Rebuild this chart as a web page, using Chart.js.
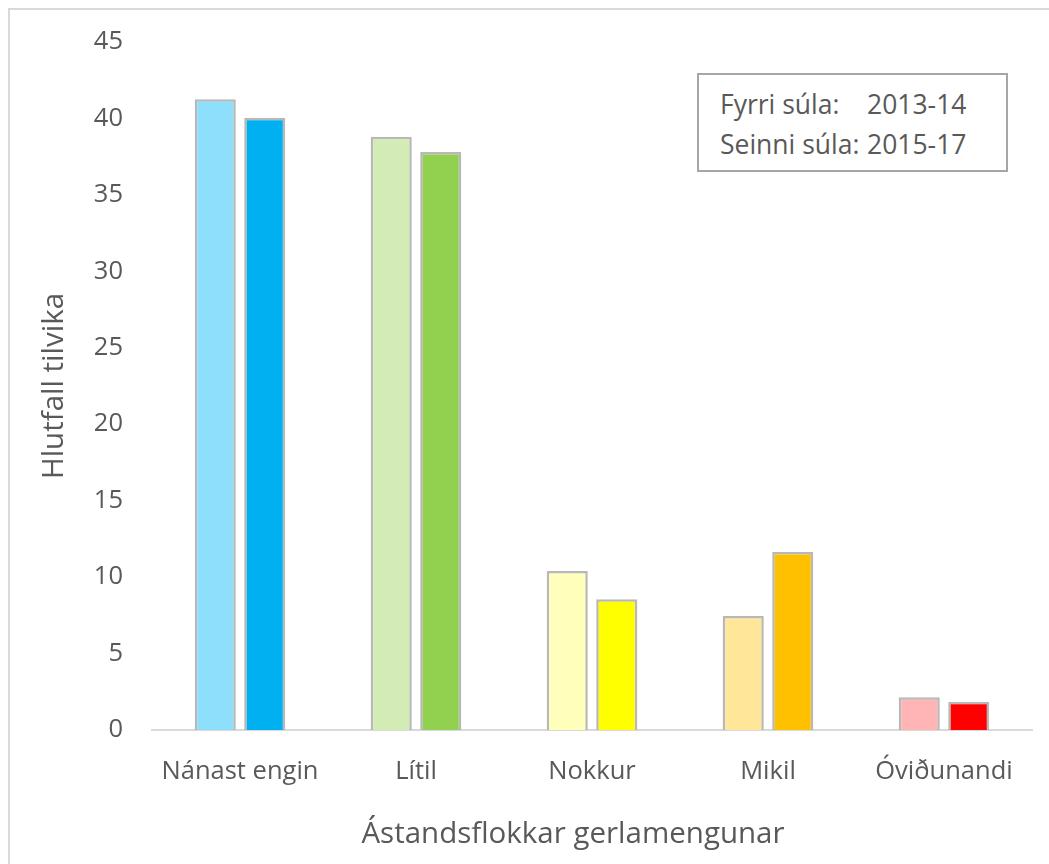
<!DOCTYPE html>
<html>
<head>
<meta charset="utf-8">
<script src="https://cdn.jsdelivr.net/npm/chart.js@4/dist/chart.umd.min.js"></script>
<style>
  html, body { margin: 0; padding: 0; background: #fff; overflow: hidden; }
  #wrap { position: relative; width: 1049px; height: 864px; }
  #frame { position: absolute; left: 8px; top: 8px; width: 1100px; height: 900px; border: 2px solid #d9d9d9; box-sizing: border-box; }
  canvas { position: absolute; left: 0; top: 0; }
  #legend { position: absolute; left: 697px; top: 73px; width: 311px; height: 99px; border: 2px solid #a6a6a6; box-sizing: border-box; background: #fff;
            font-family: "Open Sans", sans-serif; font-size: 26.5px; color: #595959; }
  .row { position: absolute; left: 21px; height: 40px; line-height: 40px; white-space: nowrap; }
  .val { position: absolute; left: 147px; }
  #xtitle { position: absolute; left: 273px; width: 600px; top: 812px; text-align: center; font-family: "Open Sans", sans-serif; font-size: 29.5px; color: #595959; line-height: 40px; }
</style>
</head>
<body>
<div id="wrap">
  <div id="frame"></div>
  <canvas id="c" width="1049" height="864"></canvas>
  <div id="legend">
    <div class="row" style="top:9px">Fyrri súla:<span class="val">2013-14</span></div>
    <div class="row" style="top:49px">Seinni súla:<span class="val">2015-17</span></div>
  </div>
  <div id="xtitle">Ástandsflokkar gerlamengunar</div>
</div>
<script>
const categories = ["Nánast engin", "Lítil", "Nokkur", "Mikil", "Óviðunandi"];
const series2013_14 = [41.25, 38.8, 10.4, 7.45, 2.15];
const series2015_17 = [40.05, 37.8, 8.55, 11.65, 1.85];
const colors2013_14 = ["#8EDFFB", "#D3EBB5", "#FFFFBB", "#FFE699", "#FFB5B5"];
const colors2015_17 = ["#00B0F0", "#92D050", "#FFFF00", "#FFC000", "#FF0000"];
const yTicks = [0, 5, 10, 15, 20, 25, 30, 35, 40, 45];

const textColor = "#595959";
const fontFamily = "'Open Sans', sans-serif";

new Chart(document.getElementById("c"), {
  type: "bar",
  data: {
    labels: categories,
    datasets: [
      { label: "2013-14", data: series2013_14, backgroundColor: colors2013_14, borderColor: "#B8B8B8", borderWidth: 2.5 },
      { label: "2015-17", data: series2015_17, backgroundColor: colors2015_17, borderColor: "#B8B8B8", borderWidth: 2.5 }
    ]
  },
  options: {
    responsive: false,
    animation: false,
    devicePixelRatio: 1,
    categoryPercentage: 0.5625,
    barPercentage: 0.83,
    layout: { padding: { left: 8, top: 42, right: 17, bottom: 0 } },
    plugins: { legend: { display: false }, tooltip: { enabled: false } },
    scales: {
      x: {
        grid: { display: false, drawTicks: false },
        border: { display: true, color: "#D9D9D9", width: 2 },
        ticks: { color: textColor, font: { family: fontFamily, size: 25.5 }, padding: 26, maxRotation: 0 },
        afterFit: (s) => { s.height = 134; }
      },
      y: {
        min: 0, max: 45,
        afterBuildTicks: (s) => { s.ticks = yTicks.map(v => ({ value: v })); },
        grid: { display: false, drawTicks: false },
        border: { display: false },
        ticks: { color: textColor, font: { family: fontFamily, size: 25.5 }, padding: 29 },
        title: { display: true, text: "Hlutfall tilvika", color: textColor, font: { family: fontFamily, size: 29.5 }, padding: { top: 29, bottom: 0 } },
        afterFit: (s) => { s.width = 144; s.paddingTop = 0; s.paddingBottom = 0; }
      }
    }
  }
});
</script>
</body>
</html>
